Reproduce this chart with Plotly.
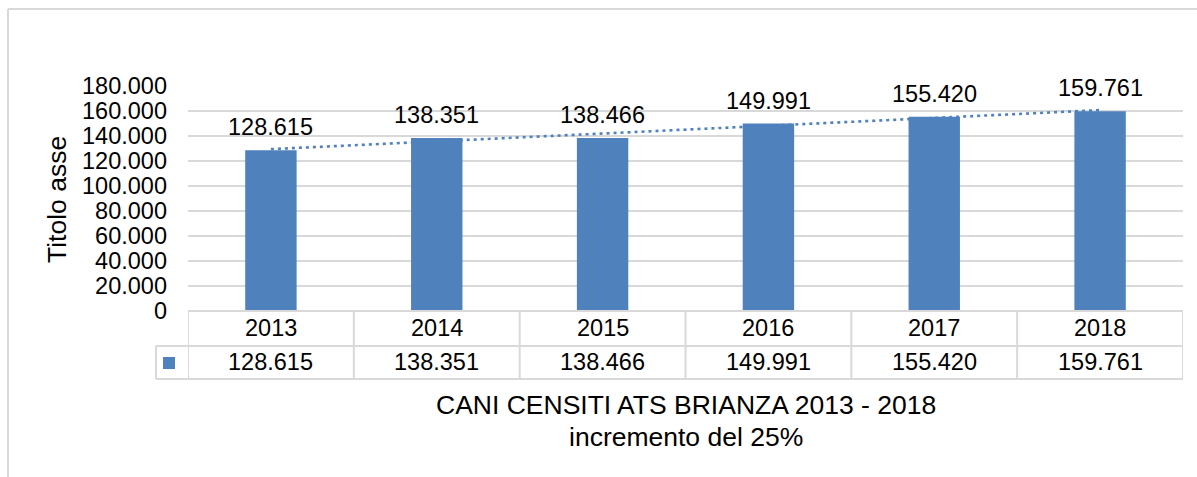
import numpy as np
import plotly.graph_objects as go

# ---- data ----
years = ["2013", "2014", "2015", "2016", "2017", "2018"]
dogs = [128615, 138351, 138466, 149991, 155420, 159761]
value_labels = ["128.615", "138.351", "138.466", "149.991", "155.420", "159.761"]
y_title = "Titolo asse"
x_title_1 = "CANI CENSITI ATS BRIANZA 2013 - 2018"
x_title_2 = "incremento del 25%"

BLUE = "#4F81BD"
GRID = "#D9D9D9"
FONT = "Liberation Sans, Arial, sans-serif"
FS = 23.5
FT = 26.5

W, H = 1197, 477
L, R, T, B = 188, 14, 86, 166
PW, PH = W - L - R, H - T - B


def py(p):  # pixel y -> paper y
    return (H - B - p) / PH


def px(p):  # pixel x -> paper x
    return (p - L) / PW


xs = list(range(len(years)))
coef = np.polyfit(xs, dogs, 1)
trend = np.polyval(coef, xs)

fig = go.Figure()
fig.add_trace(go.Bar(x=xs, y=dogs, width=0.31, marker=dict(color=BLUE, line=dict(width=0)),
                     hoverinfo="skip", showlegend=False))
fig.add_trace(go.Scatter(x=xs, y=trend, mode="lines",
                         line=dict(color=BLUE, width=2.6, dash="3px,4px"),
                         hoverinfo="skip", showlegend=False))

ann = []
# data labels
for i, v in enumerate(dogs):
    ann.append(dict(x=i, y=v, xref="x", yref="y", text=value_labels[i], showarrow=False,
                    yanchor="middle", yshift=23, font=dict(size=FS, color="#000", family=FONT)))
# table text
for i in xs:
    ann.append(dict(x=i, y=py(328), xref="x", yref="paper", text=years[i], showarrow=False,
                    yanchor="middle", font=dict(size=FS, color="#000", family=FONT)))
    ann.append(dict(x=i, y=py(362), xref="x", yref="paper", text=value_labels[i], showarrow=False,
                    yanchor="middle", font=dict(size=FS, color="#000", family=FONT)))
# axis titles
ann.append(dict(x=px(57), y=py(200), xref="paper", yref="paper", text=y_title, textangle=-90,
                showarrow=False, xanchor="center", yanchor="middle",
                font=dict(size=FT, color="#000", family=FONT)))
ann.append(dict(x=0.5, y=py(405), xref="paper", yref="paper", text=x_title_1, showarrow=False,
                yanchor="middle", font=dict(size=FT, color="#000", family=FONT)))
ann.append(dict(x=0.5, y=py(437), xref="paper", yref="paper", text=x_title_2, showarrow=False,
                yanchor="middle", font=dict(size=FT, color="#000", family=FONT)))

shapes = []
ln = dict(color=GRID, width=2)
# table horizontal lines
shapes.append(dict(type="line", xref="x", yref="paper", x0=-0.5, x1=5.5, y0=0, y1=0, line=ln))
shapes.append(dict(type="line", xref="paper", yref="paper", x0=px(156), x1=1, y0=py(346), y1=py(346), line=ln))
shapes.append(dict(type="line", xref="paper", yref="paper", x0=px(156), x1=1, y0=py(379), y1=py(379), line=ln))
shapes.append(dict(type="line", xref="paper", yref="paper", x0=px(156), x1=px(156), y0=py(346), y1=py(379), line=ln))
for k in range(len(years) + 1):
    shapes.append(dict(type="line", xref="x", yref="paper", x0=k - 0.5, x1=k - 0.5,
                       y0=0, y1=py(379), line=ln))
# legend key
shapes.append(dict(type="rect", xref="paper", yref="paper", x0=px(163), x1=px(175),
                   y0=py(369), y1=py(357), fillcolor=BLUE, line=dict(width=0)))
# outer frame
shapes.append(dict(type="line", xref="paper", yref="paper", x0=px(8), x1=px(1200),
                   y0=py(9), y1=py(9), line=ln))
shapes.append(dict(type="line", xref="paper", yref="paper", x0=px(8), x1=px(8),
                   y0=py(9), y1=py(480), line=ln))

fig.update_layout(
    width=W, height=H,
    margin=dict(l=L, r=R, t=T, b=B),
    paper_bgcolor="white", plot_bgcolor="white",
    separators=",.",
    font=dict(family=FONT, size=FS, color="#000"),
    xaxis=dict(range=[-0.5, 5.5], showticklabels=False, showgrid=False, zeroline=False,
               showline=False, fixedrange=True),
    yaxis=dict(range=[0, 180000], dtick=20000, tickformat=",", showgrid=True, gridcolor=GRID,
               gridwidth=1.5, zeroline=False, showline=False, ticks="",
               ticklabelstandoff=20, tickfont=dict(size=FS, color="#000", family=FONT)),
    annotations=ann, shapes=shapes,
)

fig.write_html("out.html", config={"displayModeBar": False},
               post_script="document.body.style.margin='0';document.body.style.overflow='hidden';")
